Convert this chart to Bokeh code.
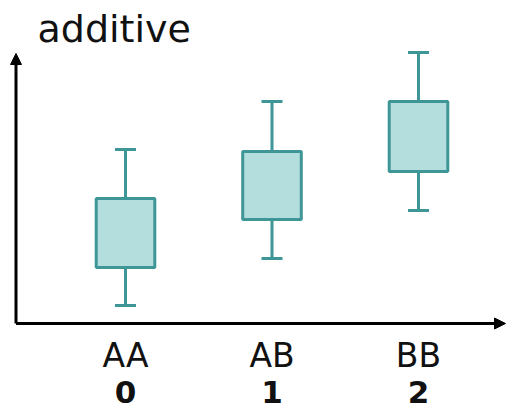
from bokeh.plotting import figure
from bokeh.models import (ColumnDataSource, Arrow, NormalHead, Whisker, TeeHead,
                          Range1d, Label)
from bokeh.core.properties import value
from bokeh.embed import file_html
from bokeh.resources import INLINE

# ---- data ----
genotype = ["AA", "AB", "BB"]
genotype_code = [0, 1, 2]
code_label = ["0", "1", "2"]
whisker_low = [1.8, 6.5, 11.3]
q1 = [5.6, 10.4, 15.2]
q3 = [12.5, 17.2, 22.2]
whisker_high = [17.4, 22.2, 27.1]
title_text = "additive"

LINE = "#3f9697"
FILL = "#b4dddd"

PX_X = 146.5   # pixels per x unit
PX_Y = 10.0    # pixels per y unit
x_start = -125 / PX_X
x_end = (508 - 125) / PX_X
y_start, y_end = -(413 - 323) / PX_Y, 323 / PX_Y

p = figure(width=508, height=413, output_backend="svg", toolbar_location=None,
           x_range=Range1d(x_start, x_end), y_range=Range1d(y_start, y_end),
           min_border_left=0, min_border_right=0, min_border_top=0,
           min_border_bottom=0, outline_line_color=None,
           x_axis_type=None, y_axis_type=None)
p.grid.visible = False
p.background_fill_color = "white"

# title
p.add_layout(Label(x=x_start + 37 / PX_X, y=y_end - 28 / PX_Y, text=title_text,
                   text_font="DejaVu Sans", text_font_size="38px",
                   text_color="#111111", text_baseline="alphabetic",
                   text_align="left"))

src = ColumnDataSource(dict(x=genotype_code, low=whisker_low, q1=q1, q3=q3,
                            high=whisker_high))

# whiskers
p.add_layout(Whisker(source=src, base="x", lower="low", upper="high",
                     line_color=LINE, line_width=3,
                     upper_head=TeeHead(size=21, line_color=LINE, line_width=3),
                     lower_head=TeeHead(size=21, line_color=LINE, line_width=3),
                     level="underlay"))
# boxes
p.vbar(x="x", bottom="q1", top="q3", width=0.4, source=src,
       fill_color=FILL, line_color=LINE, line_width=3)

# axis arrows
x_axis_pos = x_start + 15.5 / PX_X
arrow_top = y_end - 53 / PX_Y
arrow_right = x_start + 505 / PX_X
p.add_layout(Arrow(x_start=x_axis_pos, y_start=0, x_end=x_axis_pos, y_end=arrow_top,
                   line_width=3, line_color="black",
                   end=NormalHead(size=11, fill_color="black", line_color="black")))
p.add_layout(Arrow(x_start=x_axis_pos, y_start=0, x_end=arrow_right, y_end=0,
                   line_width=3, line_color="black",
                   end=NormalHead(size=11, fill_color="black", line_color="black")))

# category labels below the axis
lab_src = ColumnDataSource(dict(x=genotype_code, g=genotype, c=code_label,
                                y1=[-3.2] * 3, y2=[-6.8] * 3))
p.text(x="x", y="y1", text="g", source=lab_src, text_align="center",
       text_baseline="middle", text_font=value("DejaVu Sans"),
       text_font_size="33px", text_color="#111111")
p.text(x="x", y="y2", text="c", source=lab_src, text_align="center",
       text_baseline="middle", text_font=value("DejaVu Sans"),
       text_font_style="bold", text_font_size="31px", text_color="#111111")

open("out.html", "w").write(file_html(p, INLINE))
